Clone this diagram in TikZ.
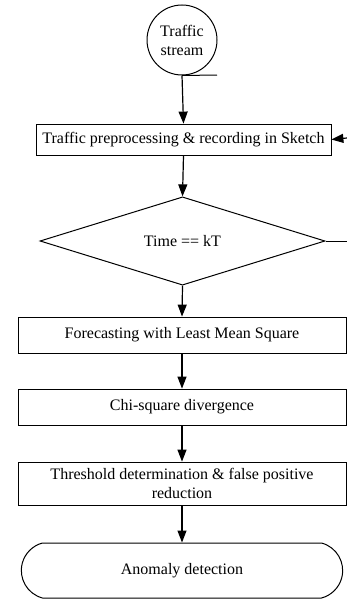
\documentclass[tikz,border=0pt]{standalone}
\usepackage{fontspec}
\setmainfont{Liberation Serif}
\usetikzlibrary{shapes.geometric, shapes.misc, arrows.meta, positioning}

\tikzset{
  box/.style={draw, thick, rectangle, minimum height=36pt, minimum width=328pt, inner sep=0pt, align=center},
  flow/.style={-{Triangle[length=12pt, width=9pt]}, line width=1.2pt},
}

\begin{document}
\begin{tikzpicture}[x=1pt, y=1pt, font=\fontsize{16}{19}\selectfont, line width=1pt]
  \useasboundingbox (0,0) rectangle (347,-602);

  % start and the processing chain
  \node[draw, circle, line width=1pt, minimum size=70pt, inner sep=0pt, align=center] (stream) at (182,-40) {Traffic\\stream};
  \node[box, minimum width=295pt, minimum height=31pt] (prep) at (183.5,-139.5) {Traffic preprocessing \& recording in Sketch};
  \node[draw, diamond, line width=1pt, minimum width=285pt, minimum height=82pt, inner sep=0pt] (time) at (182.5,-241) {Time == kT};
  \node[box] (lms) at (182,-335) {Forecasting with Least Mean Square};
  \node[box] (chi) at (182,-407) {Chi-square divergence};
  \node[box, minimum height=43pt] (thr) at (182,-483.5) {Threshold determination \& false positive\\reduction};
  \node[draw, rounded rectangle, rounded rectangle arc length=150, line width=1pt, minimum width=328pt, minimum height=55pt] (anom) at (182,-570.5) {Anomaly detection};

  % loose ends running off the right edge
  \coordinate (tail) at (217,-75);
  \coordinate (back) at (347,-138);
  \coordinate (loop) at (347,-241);

  \draw (stream.south) -- (tail);
  \draw[flow] (stream.south) -- (prep.north);
  \draw[flow] (back) -- (prep.east);
  \draw[flow] (prep.south) -- (time.north);
  \draw (time.east) -- (loop);
  \draw[flow] (time.south) -- (lms.north);
  \draw[flow] (lms.south) -- (chi.north);
  \draw[flow] (chi.south) -- (thr.north);
  \draw[flow] (thr.south) -- (anom.north);
\end{tikzpicture}
\end{document}
